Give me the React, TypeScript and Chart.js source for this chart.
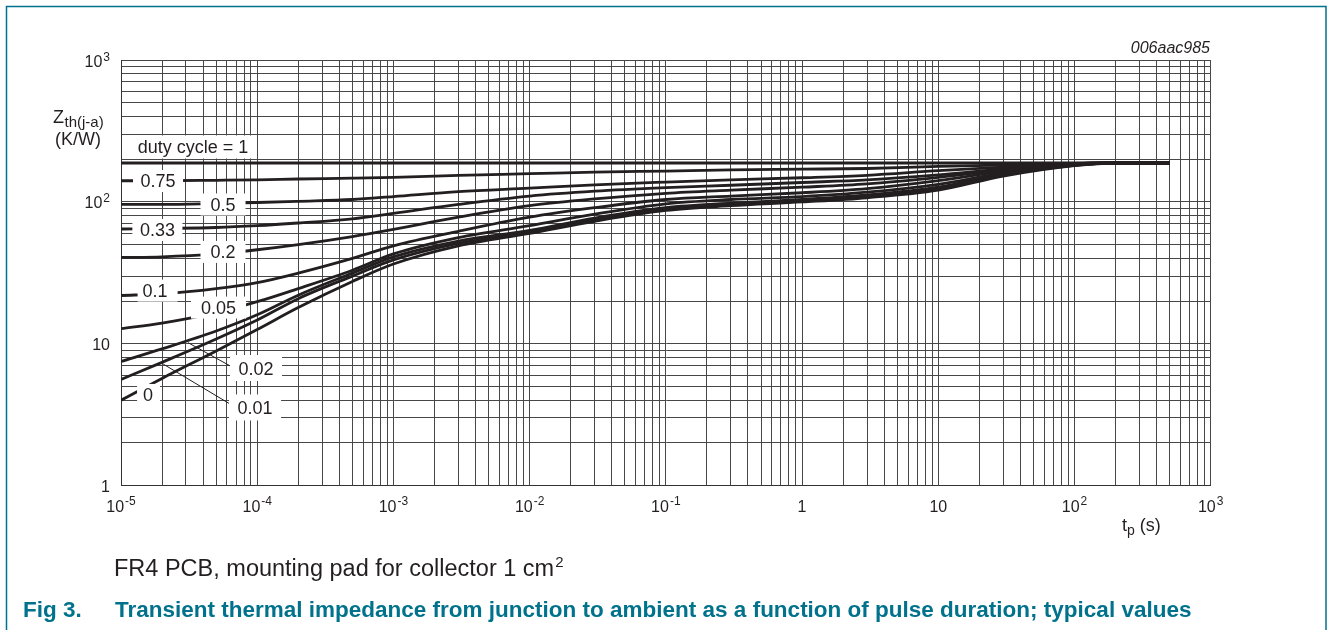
import React, { useEffect, useRef } from 'react';
import { Chart, registerables } from 'chart.js';

Chart.register(...registerables);

// pulse duration t_p (s)
const tp = [1e-5, 2e-5, 5e-5, 1e-4, 2e-4, 5e-4, 1e-3, 3e-3, 1e-2, 3e-2, 0.1, 0.3, 1, 3, 10, 30, 100, 200, 500];

// Zth(j-a) in K/W per duty cycle
const zD1 = [188, 188, 188, 188, 188, 188, 188, 188, 188, 188, 188, 188, 188, 188, 188, 188, 188, 188, 188];
const zD075 = [141, 141, 142, 143, 145, 147, 149, 154, 158, 162, 165, 168, 170, 172, 178, 182, 187, 188, 188];
const zD05 = [96, 96, 97.5, 99, 101, 104, 109, 118, 125, 132, 138, 143, 148, 154, 166, 176, 186, 188, 188];
const zD033 = [64.4, 65, 66, 68, 71, 76, 83, 96, 110, 119, 126, 131, 137, 143, 155, 171, 186, 188, 188];
const zD02 = [40.6, 41, 43, 46, 50, 57, 64, 78, 94, 105, 115, 121, 127, 134, 149, 168, 186, 188, 188];
const zD01 = [21.9, 22.5, 24.5, 27, 31.5, 40, 49, 62, 78, 91, 104, 110, 116, 124, 141, 165, 185, 188, 188];
const zD005 = [12.8, 14.0, 16.6, 19.8, 24.5, 33, 43, 56, 68, 82, 97, 104, 109, 117, 133, 160, 183, 188, 188];
const zD002 = [7.5, 9.2, 12.3, 16, 22, 31.5, 41, 53, 63, 77, 91, 98, 104, 112, 127, 157, 182, 188, 188];
const zD001 = [5.6, 7.4, 10.8, 14.7, 20.8, 30, 39, 51, 61, 75, 89, 96, 102, 110, 124, 155, 181, 188, 188];
const zD0 = [4.0, 5.7, 8.9, 12.6, 18, 27.5, 36.5, 49, 60, 73, 87, 94, 100, 107, 121, 152, 180, 188, 188];

const seriesList = [zD1, zD075, zD05, zD033, zD02, zD01, zD005, zD002, zD001, zD0];

// leader lines for labels 0.02 and 0.01 (data coords)
const leader002 = [{ x: 3.1e-5, y: 10.2 }, { x: 6.3e-5, y: 7.0 }];
const leader001 = [{ x: 2.04e-5, y: 7.2 }, { x: 6.3e-5, y: 3.77 }];

// curve labels: text, centre in data coordinates
const curveLabels = [
  { text: 'duty cycle = 1', t: 3.38e-5, z: 243.8, padL: 15, padR: 8, h: 23 },
  { text: '0.75', t: 1.87e-5, z: 140.4, padL: 7.5, padR: 7.5, h: 22 },
  { text: '0.5', t: 5.61e-5, z: 95.9, padL: 10, padR: 10, h: 22 },
  { text: '0.33', t: 1.85e-5, z: 63.4, padL: 7.5, padR: 7.5, h: 22 },
  { text: '0.2', t: 5.61e-5, z: 44.4, padL: 10, padR: 10, h: 22 },
  { text: '0.1', t: 1.78e-5, z: 23.7, padL: 5, padR: 10, h: 22 },
  { text: '0.05', t: 5.2e-5, z: 18.0, padL: 10, padR: 10, h: 22 },
  { text: '0.02', t: 9.8e-5, z: 6.75, padL: 8.5, padR: 8.5, h: 26 },
  { text: '0.01', t: 9.64e-5, z: 3.56, padL: 8.5, padR: 8.5, h: 26 },
  { text: '0', t: 1.58e-5, z: 4.36, padL: 6, padR: 7, h: 22 },
];

// axis decades and tick labels
const xDecades = [1e-5, 1e-4, 1e-3, 1e-2, 1e-1, 1, 10, 100, 1000];
const xTickLabels = [
  { base: '10', sup: '-5' },
  { base: '10', sup: '-4' },
  { base: '10', sup: '-3' },
  { base: '10', sup: '-2' },
  { base: '10', sup: '-1' },
  { base: '1', sup: '' },
  { base: '10', sup: '' },
  { base: '10', sup: '2' },
  { base: '10', sup: '3' },
];
const yDecades = [1, 10, 100, 1000];
const yTickLabels = [
  { base: '1', sup: '' },
  { base: '10', sup: '' },
  { base: '10', sup: '2' },
  { base: '10', sup: '3' },
];
const gridMultipliers = [1, 2, 3, 4, 5, 6, 7, 8, 9];

const FONT = '"Liberation Sans", Arial, Helvetica, sans-serif';
const INK = '#231f20';
const TEAL = '#00728c';

function gridTicks(decades: number[]) {
  const out: { value: number }[] = [];
  for (let i = 0; i < decades.length - 1; i++) {
    for (const m of gridMultipliers) out.push({ value: decades[i] * m });
  }
  out.push({ value: decades[decades.length - 1] });
  return out;
}

function drawSup(ctx: CanvasRenderingContext2D, base: string, sup: string, x: number, y: number, align: 'center' | 'right', baseSize: number, supSize: number, raise: number) {
  ctx.font = `${baseSize}px ${FONT}`;
  const wb = ctx.measureText(base).width;
  ctx.font = `${supSize}px ${FONT}`;
  const ws = sup ? ctx.measureText(sup).width + 1 : 0;
  const total = wb + ws;
  const x0 = align === 'center' ? x - total / 2 : x - total;
  ctx.textAlign = 'left';
  ctx.textBaseline = 'alphabetic';
  ctx.font = `${baseSize}px ${FONT}`;
  ctx.fillText(base, x0, y);
  if (sup) {
    ctx.font = `${supSize}px ${FONT}`;
    ctx.fillText(sup, x0 + wb + 1, y - raise);
  }
}

const overlayPlugin = {
  id: 'overlay',
  afterDatasetsDraw(chart: any) {
    const ctx: CanvasRenderingContext2D = chart.ctx;
    const xs = chart.scales.x;
    const ys = chart.scales.y;
    ctx.save();
    for (const l of curveLabels) {
      const cx = xs.getPixelForValue(l.t);
      const cy = ys.getPixelForValue(l.z);
      ctx.font = `18px ${FONT}`;
      const w = ctx.measureText(l.text).width;
      ctx.fillStyle = '#ffffff';
      ctx.fillRect(cx - w / 2 - l.padL, cy - l.h / 2, w + l.padL + l.padR, l.h);
      ctx.fillStyle = INK;
      ctx.textAlign = 'center';
      ctx.textBaseline = 'alphabetic';
      ctx.fillText(l.text, cx, cy + 6.5);
    }
    ctx.restore();
  },
  afterDraw(chart: any) {
    const ctx: CanvasRenderingContext2D = chart.ctx;
    const xs = chart.scales.x;
    const ys = chart.scales.y;
    ctx.save();
    // frame
    ctx.strokeStyle = TEAL;
    ctx.lineWidth = 1.5;
    ctx.beginPath();
    ctx.moveTo(6.5, 630);
    ctx.lineTo(6.5, 6.5);
    ctx.lineTo(1326, 6.5);
    ctx.lineTo(1326, 630);
    ctx.stroke();

    ctx.fillStyle = INK;
    // x tick labels
    xDecades.forEach((v, i) => {
      const px = xs.getPixelForValue(v);
      drawSup(ctx, xTickLabels[i].base, xTickLabels[i].sup, px, 512, 'center', 16, 12, 7);
    });
    // y tick labels
    yDecades.forEach((v, i) => {
      const py = ys.getPixelForValue(v);
      drawSup(ctx, yTickLabels[i].base, yTickLabels[i].sup, 110, py + 6.5, 'right', 16, 12, 6);
    });

    // y axis title
    ctx.textAlign = 'left';
    ctx.textBaseline = 'alphabetic';
    ctx.font = `18px ${FONT}`;
    ctx.fillText('Z', 53, 123);
    const wz = ctx.measureText('Z').width;
    ctx.font = `15px ${FONT}`;
    ctx.fillText('th(j-a)', 53 + wz + 0.5, 127);
    ctx.font = `18px ${FONT}`;
    ctx.textAlign = 'center';
    ctx.fillText('(K/W)', 78, 145);

    // x axis title
    ctx.textAlign = 'left';
    ctx.font = `18px ${FONT}`;
    ctx.fillText('t', 1122, 531);
    const wt = ctx.measureText('t').width;
    ctx.font = `14px ${FONT}`;
    ctx.fillText('p', 1122 + wt, 535);
    const wp = ctx.measureText('p').width;
    ctx.font = `18px ${FONT}`;
    ctx.fillText(' (s)', 1122 + wt + wp, 531);

    // code
    ctx.font = `italic 16px ${FONT}`;
    ctx.textAlign = 'right';
    ctx.fillText('006aac985', 1210, 53);

    // caption
    ctx.textAlign = 'left';
    ctx.font = `23.5px ${FONT}`;
    const cap = 'FR4 PCB, mounting pad for collector 1 cm';
    ctx.fillText(cap, 114, 576);
    const wc = ctx.measureText(cap).width;
    ctx.font = `15px ${FONT}`;
    ctx.fillText('2', 114 + wc + 1, 567);

    // figure title
    ctx.fillStyle = TEAL;
    ctx.font = `bold 22.5px ${FONT}`;
    ctx.fillText('Fig 3.', 23, 617);
    ctx.fillText('Transient thermal impedance from junction to ambient as a function of pulse duration; typical values', 115, 617);
    ctx.restore();
  },
};

export default function App() {
  const ref = useRef<HTMLCanvasElement | null>(null);
  useEffect(() => {
    document.body.style.margin = '0';
    if (!ref.current) return;
    const curveSets = seriesList.map((s) => ({
      data: tp.map((t, i) => ({ x: t, y: s[i] })),
      borderColor: INK,
      borderWidth: 2.8,
      pointRadius: 0,
      cubicInterpolationMode: 'monotone' as const,
      fill: false,
    }));
    const leaderSets = [leader002, leader001].map((d) => ({
      data: d,
      borderColor: INK,
      borderWidth: 1,
      pointRadius: 0,
      fill: false,
    }));
    const chart = new Chart(ref.current, {
      type: 'line',
      data: { datasets: [...curveSets, ...leaderSets] as any },
      options: {
        animation: false,
        responsive: false,
        events: [],
        layout: { padding: { left: 121, right: 117.3, top: 60, bottom: 144.3 } },
        plugins: { legend: { display: false }, tooltip: { enabled: false } },
        scales: {
          x: {
            type: 'logarithmic',
            min: 1e-5,
            max: 1000,
            ticks: { display: false },
            grid: { color: '#474747', lineWidth: 1, drawTicks: false },
            border: { display: true, color: '#333333', width: 1 },
            afterBuildTicks: (scale: any) => {
              scale.ticks = gridTicks(xDecades);
            },
            afterFit: (scale: any) => {
              scale.height = 0;
              scale.paddingLeft = 0;
              scale.paddingRight = 0;
            },
          },
          y: {
            type: 'logarithmic',
            min: 1,
            max: 1000,
            ticks: { display: false },
            grid: { color: '#474747', lineWidth: 1, drawTicks: false },
            border: { display: true, color: '#333333', width: 1 },
            afterBuildTicks: (scale: any) => {
              scale.ticks = gridTicks(yDecades);
            },
            afterFit: (scale: any) => {
              scale.width = 0;
              scale.paddingTop = 0;
              scale.paddingBottom = 0;
            },
          },
        },
      },
      plugins: [overlayPlugin],
    });
    return () => chart.destroy();
  }, []);
  return (
    <div style={{ position: 'absolute', left: 0, top: 0, width: 1328, height: 630, background: '#fff' }}>
      <canvas ref={ref} width={1328} height={630} style={{ width: 1328, height: 630, display: 'block' }} />
    </div>
  );
}
